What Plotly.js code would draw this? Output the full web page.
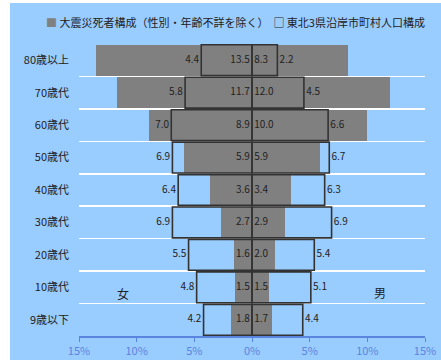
<!DOCTYPE html>
<html>
<head>
<meta charset="utf-8">
<script src="https://cdn.plot.ly/plotly-3.0.1.min.js"></script>
<style>
html,body{margin:0;padding:0;background:#ffffff;width:441px;height:360px;overflow:hidden;}
#chart{position:absolute;left:10px;top:3px;width:431px;height:357px;}
</style>
</head>
<body>
<div id="chart"></div>
<script>
// Age groups (top to bottom)
const categories = ['80歳以上','70歳代','60歳代','50歳代','40歳代','30歳代','20歳代','10歳代','9歳以下'];
// 大震災死者構成 (%), female / male
const deathFemale = [13.5, 11.7, 8.9, 5.9, 3.6, 2.7, 1.6, 1.5, 1.8];
const deathMale   = [8.3, 12.0, 10.0, 5.9, 3.4, 2.9, 2.0, 1.5, 1.7];
// 東北3県沿岸市町村人口構成 (%), female / male
const popFemale = [4.4, 5.8, 7.0, 6.9, 6.4, 6.9, 5.5, 4.8, 4.2];
const popMale   = [2.2, 4.5, 6.6, 6.7, 6.3, 6.9, 5.4, 5.1, 4.4];
// Axis ticks
const xTickVals = [-15, -10, -5, 0, 5, 10, 15];
const xTickText = ['15%', '10%', '5%', '0%', '5%', '10%', '15%'];
const seriesNames = ['大震災死者構成（性別・年齢不詳を除く）', '東北3県沿岸市町村人口構成'];

const idx = categories.map((_, i) => i);
const zeros = categories.map(() => 0);
const NB = '\u00a0';
const fmtL = v => v.toFixed(1) + NB;
const fmtR = v => NB + v.toFixed(1);
const neg = arr => arr.map(v => -v);

const FONT = '"Noto Sans CJK JP", "Noto Sans", sans-serif';
const GRAY = '#808080';
const DARK = '#333333';
const BAR_W = 0.95;

const traces = [
  {type:'bar', orientation:'h', x: neg(deathFemale), y: idx, width: BAR_W,
   marker:{color: GRAY, line:{width:0}}, name: seriesNames[0], showlegend:false},
  {type:'bar', orientation:'h', x: deathMale, y: idx, width: BAR_W,
   marker:{color: GRAY, line:{width:0}}, name: seriesNames[0], showlegend:false},
  {type:'bar', orientation:'h', x: neg(popFemale), y: idx, width: BAR_W,
   marker:{color:'rgba(0,0,0,0)', line:{color: DARK, width:1.6}}, name: seriesNames[1], showlegend:false},
  {type:'bar', orientation:'h', x: popMale, y: idx, width: BAR_W,
   marker:{color:'rgba(0,0,0,0)', line:{color: DARK, width:1.6}}, name: seriesNames[1], showlegend:false},
  // labels
  {type:'scatter', mode:'text', x: zeros, y: idx, text: deathFemale.map(fmtL),
   textposition:'middle left', textfont:{size:10, color:'#222', family:FONT}, cliponaxis:false, showlegend:false},
  {type:'scatter', mode:'text', x: zeros, y: idx, text: deathMale.map(fmtR),
   textposition:'middle right', textfont:{size:10, color:'#222', family:FONT}, cliponaxis:false, showlegend:false},
  {type:'scatter', mode:'text', x: neg(popFemale), y: idx, text: popFemale.map(fmtL),
   textposition:'middle left', textfont:{size:10, color:'#222', family:FONT}, cliponaxis:false, showlegend:false},
  {type:'scatter', mode:'text', x: popMale, y: idx, text: popMale.map(fmtR),
   textposition:'middle right', textfont:{size:10, color:'#222', family:FONT}, cliponaxis:false, showlegend:false}
];

const minorVals = categories.slice(0, -1).map((_, i) => i - 0.5).concat([categories.length - 1.5]);

const layout = {
  width: 431, height: 357,
  margin: {l: 69, r: 16, t: 41, b: 24, pad: 0},
  paper_bgcolor: '#99ccff',
  plot_bgcolor: '#99ccff',
  font: {family: FONT, size: 11, color: '#222'},
  barmode: 'overlay',
  bargap: 0,
  hovermode: false,
  showlegend: false,
  xaxis: {
    range: [-15, 15], tickmode: 'array', tickvals: xTickVals, ticktext: xTickText,
    showgrid: false, zeroline: false, showline: true, linecolor: '#5b84de', linewidth: 1.5,
    ticks: 'outside', ticklen: 4, tickcolor: '#5b84de', tickwidth: 1,
    tickfont: {size: 11, color: '#5b84de', family: FONT}, fixedrange: true
  },
  yaxis: {
    range: [categories.length - 0.5, -0.5], tickmode: 'array', tickvals: idx, ticktext: categories,
    showgrid: false, zeroline: false, showline: false, ticks: '', ticklabelstandoff: 9,
    tickfont: {size: 11, color: '#222', family: FONT},
    minor: {tickmode: 'array', tickvals: minorVals, showgrid: true, gridcolor: '#ffffff', gridwidth: 1.5, ticks: ''},
    fixedrange: true
  },
  annotations: [
    {xref:'paper', yref:'paper', x: -0.1, y: 1.077, xanchor:'left', yanchor:'middle', showarrow:false,
     text: '<span style="color:#808080">■</span> ' + seriesNames[0] + NB + NB + '□ ' + seriesNames[1],
     font:{size:11, color:'#222', family:FONT}},
    {x: -11.2, y: 7.2, xref:'x', yref:'y', text:'女', showarrow:false, font:{size:12, color:'#222', family:FONT}},
    {x: 11.1, y: 7.15, xref:'x', yref:'y', text:'男', showarrow:false, font:{size:12, color:'#222', family:FONT}}
  ]
};

Plotly.newPlot('chart', traces, layout, {displayModeBar: false, staticPlot: true});
</script>
</body>
</html>
